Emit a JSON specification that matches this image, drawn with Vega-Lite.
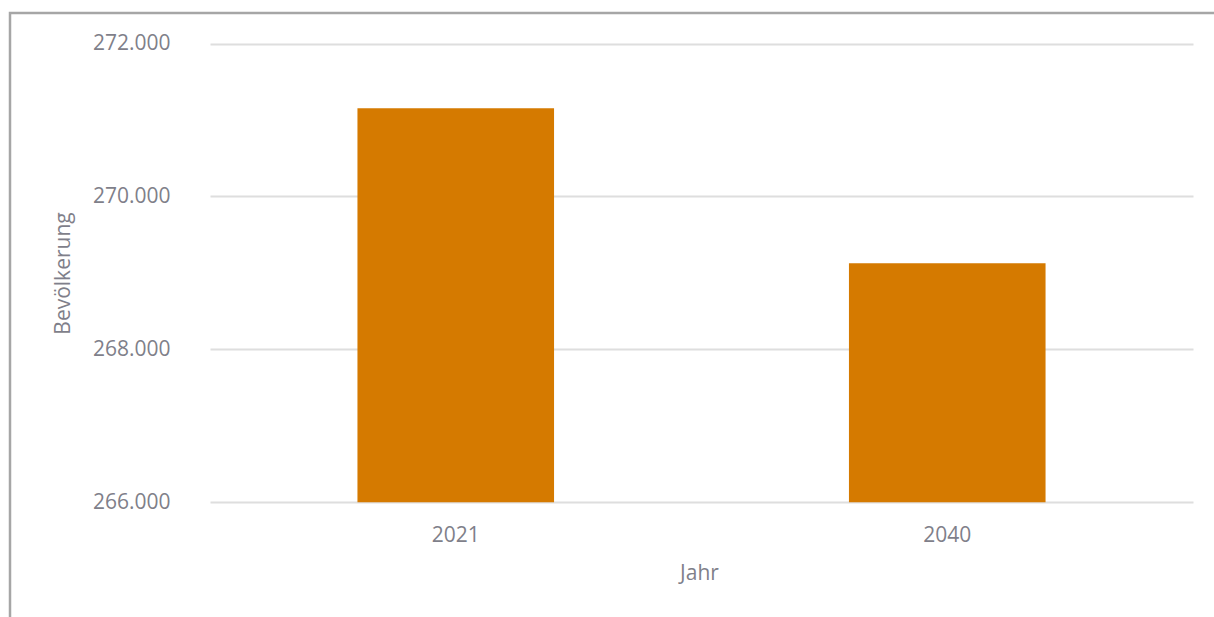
{
  "$schema": "https://vega.github.io/schema/vega-lite/v6.json",
  "width": 1204,
  "height": 604,
  "autosize": {"type": "none"},
  "padding": {"left": 10, "top": 13, "right": 0, "bottom": 0},
  "background": "white",
  "config": {
    "view": {"stroke": "#a6a6a6", "strokeWidth": 2.5, "strokeDash": [1204, 1808, 606, 0]},
    "font": "Open Sans",
    "axis": {
      "labelFont": "Open Sans",
      "titleFont": "Open Sans",
      "labelFontSize": 21,
      "titleFontSize": 21,
      "titleFontWeight": "normal",
      "labelColor": "#7f7f8a",
      "titleColor": "#7f7f8a",
      "domain": false,
      "ticks": false
    }
  },
  "data": {
    "values": [
      {"Jahr": "2021", "Bevoelkerung": 271155},
      {"Jahr": "2040", "Bevoelkerung": 269128}
    ]
  },
  "mark": {"type": "bar", "color": "#d57a00"},
  "encoding": {
    "x": {
      "field": "Jahr",
      "type": "nominal",
      "scale": {"range": [200, 1183], "paddingInner": 0.6, "paddingOuter": 0.3},
      "axis": {
        "title": "Jahr",
        "labelAngle": 0,
        "offset": -114,
        "labelPadding": 21,
        "grid": false,
        "titleX": 689,
        "titleY": 70,
        "titleBaseline": "middle",
        "titleAlign": "center"
      }
    },
    "y": {
      "field": "Bevoelkerung",
      "type": "quantitative",
      "scale": {"domain": [264500, 272400], "nice": false, "zero": false},
      "axis": {
        "title": "Bevölkerung",
        "values": [266000, 268000, 270000, 272000],
        "labelExpr": "replace(format(datum.value, ','), ',', '.')",
        "offset": -200,
        "labelPadding": 40,
        "grid": true,
        "gridColor": "#dedede",
        "gridWidth": 2,
        "titleAngle": -90,
        "titleX": -147,
        "titleY": 260,
        "titleAlign": "center",
        "titleBaseline": "middle"
      }
    },
    "y2": {"datum": 266000}
  }
}
